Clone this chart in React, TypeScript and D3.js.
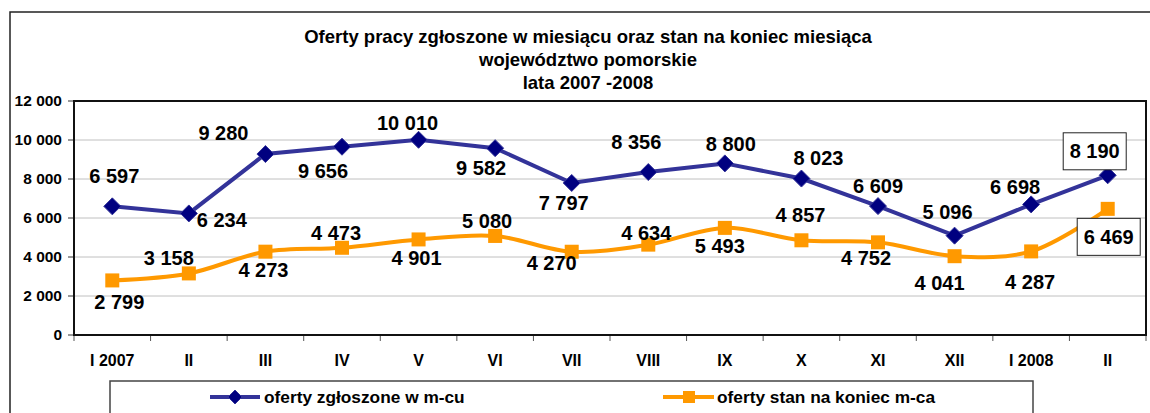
import * as d3 from "d3";
import React from "react";

const categories = ["I 2007", "II", "III", "IV", "V", "VI", "VII", "VIII", "IX", "X", "XI", "XII", "I 2008", "II"];
const zgloszone = [6597, 6234, 9280, 9656, 10010, 9582, 7797, 8356, 8800, 8023, 6609, 5096, 6698, 8190];
const stanKoniec = [2799, 3158, 4273, 4473, 4901, 5080, 4270, 4634, 5493, 4857, 4752, 4041, 4287, 6469];
const yTicks = [0, 2000, 4000, 6000, 8000, 10000, 12000];
const titleLines = [
    "Oferty pracy zgłoszone w miesiącu oraz stan na koniec miesiąca",
    "województwo pomorskie",
    "lata 2007 -2008",
];
const seriesNames = ["oferty zgłoszone w m-cu", "oferty stan na koniec m-ca"];

// label placement relative to the point (hand placed in the original)
const offZ = [[2, -30], [33, 7], [-42, -21], [-19, 24], [-11, -17], [-14, 20], [-8, 20], [-12, -30], [6, -19], [17, -21], [0, -20], [-7, -24], [-16, -17], [-13, -24]];
const offS = [[7, 22], [-20, -15], [-2, 18], [-6, -15], [-2, 19], [-8, -15], [-20, 11], [-2, -12], [-5, 18], [-1, -25], [-12, 16], [-15, 27], [-1, 31], [1, 28]];
const boxedIdx = 13;

const W = 1150, H = 413;
const plot = { left: 74, right: 1146, top: 101, bottom: 335 };
const font = "'Liberation Sans', Arial, sans-serif";
const BLUE_LINE = "#333399";
const BLUE_MARK = "#000080";
const ORANGE = "#FF9900";

const fmt = d3.formatLocale({ decimal: ",", thousands: " ", grouping: [3], currency: ["", ""] }).format(",");

export default function App() {
    const x = d3.scaleBand<number>().domain(d3.range(categories.length)).range([plot.left, plot.right]);
    const y = d3.scaleLinear().domain([0, 12000]).range([plot.bottom, plot.top]);
    const cx = (i: number) => (x(i) as number) + x.bandwidth() / 2;

    const lineZ = d3.line<number>().x((_, i) => cx(i)).y((d) => y(d));
    const lineS = d3.line<number>().x((_, i) => cx(i)).y((d) => y(d)).curve(d3.curveCatmullRom.alpha(0.5));

    const diamond = (px: number, py: number, r: number) => `M${px},${py - r}L${px + r},${py}L${px},${py + r}L${px - r},${py}Z`;

    const label = (v: number, px: number, py: number, boxed: boolean, key: string) => {
        const txt = fmt(v);
        const w = txt.length * 10.2 + 4;
        return (
            <g key={key}>
                {boxed && (
                    <rect x={px - w / 2 - 4} y={py - 18.5} width={w + 8} height={37} fill="white" stroke="#222" strokeWidth={1} />
                )}
                <text x={px} y={py} dy="0.35em" textAnchor="middle" fontSize={20} fontWeight="bold" fill="#000">
                    {txt}
                </text>
            </g>
        );
    };

    return (
        <svg width={W} height={H} style={{ position: "absolute", left: 0, top: 0, background: "#fff" }} fontFamily={font}>
            <rect x={10} y={12} width={1150} height={420} fill="white" stroke="#222" strokeWidth={1.5} />

            {titleLines.map((t, i) => (
                <text key={i} x={588} y={37 + i * 23} dy="0.35em" textAnchor="middle" fontSize={18.5} fontWeight="bold">
                    {t}
                </text>
            ))}

            {/* gridlines */}
            {yTicks.slice(1, -1).map((t) => (
                <line key={t} x1={plot.left} x2={plot.right} y1={y(t)} y2={y(t)} stroke="#c0c0c0" strokeWidth={1} />
            ))}

            {/* y axis ticks & labels */}
            {yTicks.map((t) => (
                <g key={t}>
                    <line x1={plot.left - 6} x2={plot.left} y1={y(t)} y2={y(t)} stroke="#333" strokeWidth={1} />
                    <text x={62} y={y(t)} dy="0.35em" textAnchor="end" fontSize={15.5} fontWeight="bold">
                        {fmt(t)}
                    </text>
                </g>
            ))}

            {/* x axis ticks & labels */}
            {d3.range(categories.length + 1).map((i) => {
                const px = plot.left + i * x.bandwidth();
                return <line key={i} x1={px} x2={px} y1={plot.bottom} y2={plot.bottom + 6} stroke="#555" strokeWidth={1} />;
            })}
            {categories.map((c, i) => (
                <text key={i} x={cx(i)} y={360} dy="0.35em" textAnchor="middle" fontSize={16} fontWeight="bold">
                    {c}
                </text>
            ))}

            <rect x={plot.left} y={plot.top} width={plot.right - plot.left} height={plot.bottom - plot.top} fill="none" stroke="#111" strokeWidth={2} />

            {/* series */}
            <path d={lineS(stanKoniec) as string} fill="none" stroke={ORANGE} strokeWidth={4} />
            {stanKoniec.map((v, i) => (
                <rect key={i} x={cx(i) - 7} y={y(v) - 7} width={14} height={14} fill={ORANGE} />
            ))}
            <path d={lineZ(zgloszone) as string} fill="none" stroke={BLUE_LINE} strokeWidth={4} />
            {zgloszone.map((v, i) => (
                <path key={i} d={diamond(cx(i), y(v), 8.5)} fill={BLUE_MARK} stroke={BLUE_LINE} strokeWidth={1} />
            ))}

            {/* data labels */}
            {zgloszone.map((v, i) => label(v, cx(i) + offZ[i][0], y(v) + offZ[i][1], i === boxedIdx, `z${i}`))}
            {stanKoniec.map((v, i) => label(v, cx(i) + offS[i][0], y(v) + offS[i][1], i === boxedIdx, `s${i}`))}

            {/* legend */}
            <rect x={110} y={381} width={923} height={50} fill="white" stroke="#444" strokeWidth={1.5} />
            <line x1={210} x2={260} y1={397} y2={397} stroke={BLUE_LINE} strokeWidth={4} />
            <path d={diamond(235, 397, 7)} fill={BLUE_MARK} stroke={BLUE_LINE} />
            <text x={264} y={397} dy="0.35em" fontSize={17.3} fontWeight="bold">{seriesNames[0]}</text>
            <line x1={663} x2={714} y1={397} y2={397} stroke={ORANGE} strokeWidth={4} />
            <rect x={683} y={391} width={12} height={12} fill={ORANGE} />
            <text x={717} y={397} dy="0.35em" fontSize={17.3} fontWeight="bold">{seriesNames[1]}</text>
        </svg>
    );
}
